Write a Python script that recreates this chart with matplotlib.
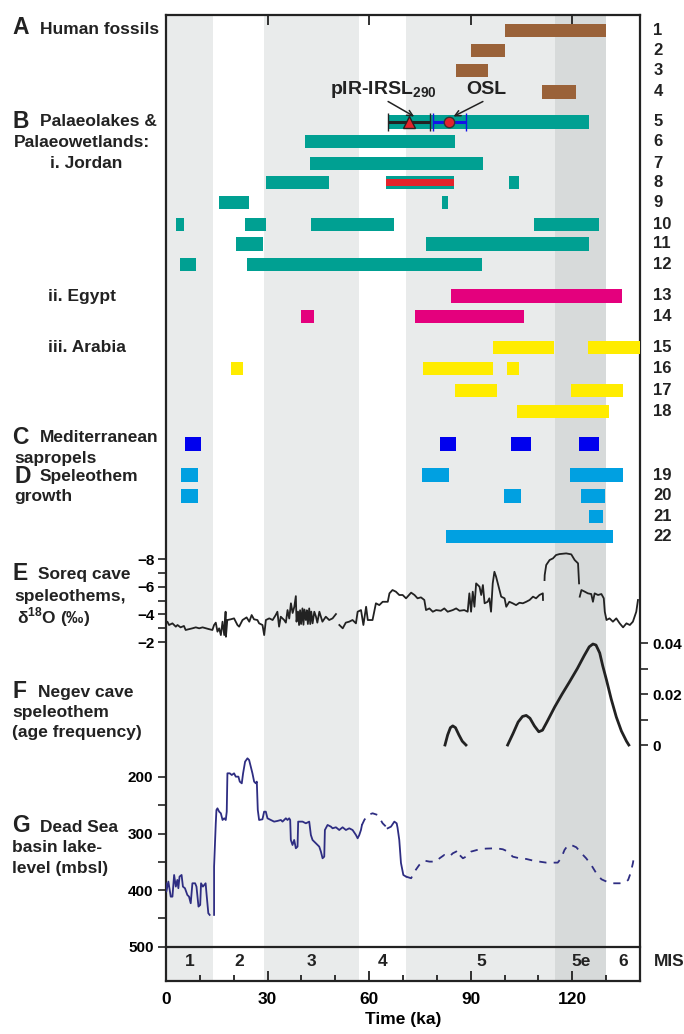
import matplotlib
matplotlib.use('Agg')
import numpy as np
import matplotlib.pyplot as plt
from matplotlib.ticker import MultipleLocator, FixedLocator
import matplotlib.transforms as mtransforms

plt.rcParams['font.family'] = ['Liberation Sans', 'DejaVu Sans']
plt.rcParams['font.weight'] = 'bold'
plt.rcParams['mathtext.fontset'] = 'custom'
plt.rcParams['mathtext.rm'] = 'Liberation Sans:bold'
plt.rcParams['mathtext.bf'] = 'Liberation Sans:bold'
plt.rcParams['axes.unicode_minus'] = True

# ---------------- data ----------------
mis_bounds = [0, 14, 29, 57, 71, 115, 130, 140]
mis_labels = ['1', '2', '3', '4', '5', '5e', '6']

# A  Human fossils (ka intervals), rows 1-4
fossils = [[(100, 130)], [(90, 100)], [(85.8, 95)], [(111, 121)]]
# B i. Jordan palaeolakes, rows 5-12
jordan = [[(66, 124.8)],
          [(41, 85.3)],
          [(42.6, 93.7)],
          [(29.5, 48.2), (65, 85.2), (101.4, 104.4)],
          [(15.7, 24.6), (81.5, 83.3)],
          [(2.9, 5.3), (23.2, 29.6), (42.8, 67.4), (108.6, 128)],
          [(20.7, 28.7), (76.9, 124.9)],
          [(4.2, 8.9), (24, 93.4)]]
jordan_red = (65, 85.2)   # row 8 overlay
# ii. Egypt, rows 13-14
egypt = [[(84.3, 134.8)], [(40, 43.6), (73.5, 105.7)]]
# iii. Arabia, rows 15-18
arabia = [[(96.5, 114.5), (124.6, 140)],
          [(19.1, 22.8), (75.8, 96.6), (100.7, 104.3)],
          [(85.4, 97.9), (119.6, 135)],
          [(103.7, 130.7)]]
# C Mediterranean sapropels
sapropels = [(5.7, 10.3), (80.8, 85.8), (101.8, 107.9), (121.9, 128)]
# D Speleothem growth, rows 19-22
speleo = [[(4.5, 9.4), (75.6, 83.6), (119.3, 135)],
          [(4.5, 9.4), (99.9, 104.8), (122.6, 129.8)],
          [(125, 129.1)],
          [(82.7, 132)]]
# luminescence ages on row 5
pirirsl_age, pirirsl_err = 71.9, (6.2, 6.1)
osl_age, osl_err = 83.5, (4.7, 5.1)

# E Soreq cave d18O
nan = np.nan
soreq_age = [0.0, 0.4, 0.9, 1.9, 2.9, 3.4, 4.3, 5.3, 5.8, 7.8, 8.8, 9.8, 10.8, 12.7, 13.7,
             14.2, 14.7, 15.2, 15.7, 16.2, 16.7, 17.2, 17.6, 17.7, 18.1, 19.1, 20.1, 21.1,
             21.6, 22.6, 23.8, 24.6, 25.3, 26.0, 27.0, 27.5, 28.5, 29.0, 29.5, 30.5, 31.5,
             32.4, 32.9, 33.4, 33.9, 34.9, 35.4, 35.9, 36.4, 36.9, 37.4, 37.9, 38.35, 38.55,
             39.0, 39.3, 39.6, 39.9, 40.3, 40.6, 40.9, 41.3, 41.6, 41.9, 42.3, 42.6, 42.9,
             43.3, 43.8, 44.3, 44.7, 45.3, 46.2, 47.2, 48.2, 49.2, 50.2, nan,
             51.2, 52.2, 53.1, 54.1, 55.1, 56.1, 56.6, 57.6, 58.3, 59.1, 59.6, 61.0, 62.0,
             63.0, 64.0, 65.5, 66.0, 66.9, 67.9, 68.9, 69.9, 70.9, 72.4, 73.4, 74.3, 75.3,
             76.3, 76.8, 77.8, 78.8, 79.8, 81.2, 82.2, 83.2, 84.7, 85.7, 86.7, 88.1, 89.1,
             89.6, 90.1, 90.6, 91.1, 91.6, 92.6, 93.1, 93.6, 94.1, 95.0, 95.5, 96.0, 96.5,
             97.0, 97.5, 98.0, 98.5, 99.0, 100.0, 100.5, 101.4, 102.4, 103.4, 104.4, 105.4,
             106.4, 107.4, 108.4, 109.3, 110.3, 111.3, 111.35, nan,
             111.8, 111.85, 112.3, 113.3, 114.3, 115.2, 116.2, 118.2, 119.7, 120.7, 121.7,
             122.0, nan,
             122.2, 122.7, 123.7, 124.6, 125.6, 126.1, 126.6, 127.6, 128.6, 129.3, 129.6,
             130.1, 131.0, 132.0, 133.0, 134.0, 135.0, 136.0, 137.0, 137.9, 138.9, 139.4]
soreq_d18o = [-3.40, -3.47, -3.23, -3.35, -3.11, -3.23, -3.06, -3.16, -2.87, -2.99, -3.06,
              -2.99, -3.06, -2.93, -2.87,
              -3.23, -3.40, -2.75, -2.99, -2.50, -3.47, -2.50, -4.19, -2.38, -3.59, -3.64,
              -3.71, -3.23, -3.11, -3.59, -3.78, -3.47, -3.95, -3.64, -3.59, -3.35, -3.23,
              -2.50, -3.59, -3.71, -3.59, -3.95, -4.19, -3.11, -3.83, -3.59, -3.40, -4.31,
              -3.70, -4.80, -4.10, -4.55, -5.32, -3.47,
              -4.20, -3.23, -4.30, -3.30, -4.43, -3.25, -4.35, -3.59, -4.30, -3.30, -4.43,
              -3.30, -4.20, -3.35, -4.19, -3.83, -3.40, -4.19, -3.47, -3.83, -3.59, -3.71,
              -4.02, nan,
              -3.23, -2.99, -3.40, -3.47, -3.59, -3.35, -4.19, -4.31, -3.23, -4.55, -3.59,
              -3.59, -4.80, -4.67, -4.91, -4.91, -5.52, -5.76, -5.64, -5.40, -5.40, -5.16,
              -5.57, -5.40, -5.16, -5.23, -5.04, -4.31, -4.43, -4.19, -4.31, -4.26, -4.43,
              -4.19, -4.31, -4.43, -4.26, -4.31, -4.19, -5.52, -4.19, -5.64, -4.55, -6.24,
              -6.00, -5.40, -6.12, -4.80, -4.91, -5.16, -4.19, -6.24, -7.08, -6.72, -6.24,
              -5.76, -5.28, -5.16, -4.55, -4.91, -4.80, -4.67, -4.84, -4.80, -4.91, -5.04,
              -5.28, -5.16, -5.40, -5.52, -5.04, nan,
              -6.48, -6.84, -7.57, -7.93, -8.05, -8.29, -8.36, -8.41, -8.34, -7.93, -7.69,
              -6.24, nan,
              -5.28, -5.76, -5.64, -5.52, -5.47, -4.91, -5.52, -5.40, -5.47, -5.16, -4.19,
              -3.59, -3.71, -3.47, -3.71, -3.35, -3.06, -3.35, -3.23, -3.47, -4.19, -5.04]

# F Negev cave speleothem age frequency
negev1_age = [82.4, 83.2, 84.0, 84.7, 85.5, 86.5, 87.5, 88.6]
negev1_freq = [0.0, 0.004, 0.0068, 0.0075, 0.0068, 0.004, 0.0015, 0.0]
negev2_age = [100.9, 102.5, 104.0, 105.3, 106.4, 107.5, 108.8, 110.1, 111.2, 112.5, 114.8,
              117.0, 119.2, 121.5, 123.5, 125.0, 126.1, 127.0, 128.1, 129.0, 130.1, 131.5,
              133.0, 134.5, 136.0, 136.7]
negev2_freq = [0.0, 0.0045, 0.009, 0.0112, 0.0116, 0.0105, 0.0075, 0.0052, 0.0058, 0.009,
               0.0149, 0.020, 0.0248, 0.030, 0.035, 0.0385, 0.0396, 0.0392, 0.0361, 0.031,
               0.0255, 0.018, 0.011, 0.0055, 0.0015, 0.0]

# G Dead Sea lake level (m below sea level)
ds1_age = [0.0, 0.1, 0.7, 1.4, 1.9, 2.4, 2.9, 3.35, 3.65, 4.0, 4.6, 5.0, 5.6, 6.3, 6.8, 7.3,
           7.8, 8.6, 9.0, 9.6, 10.1, 10.35, 10.9, 11.7, 12.0, 12.5, 12.9]
ds1_lvl = [387.9, 402.6, 384.9, 411.5, 411.5, 373.2, 393.8, 382.0, 396.7, 376.1, 373.2,
           393.8, 396.7, 408.5, 411.5, 423.2, 387.9, 387.9, 393.8, 429.1, 426.2, 387.9,
           393.8, 387.9, 408.5, 440.9, 443.8]
ds2_age = [14.2, 14.2, 14.7, 14.9, 15.2, 15.7, 16.2, 16.7, 17.2, 17.65, 17.94, 18.14, 18.83,
           19.42, 20.11, 20.6, 21.39, 21.79, 22.38, 22.77, 23.36, 24.06, 24.55, 25.04, 25.53,
           26.03, 26.52, 26.82, 27.11, 27.5, 28.49, 28.98, 29.48, 29.97, 30.96, 31.94, 32.93,
           33.92, 34.41, 34.9, 35.4, 35.89, 36.38, 36.68, 36.87, 37.37, 37.86, 38.35, 38.85,
           39.04, 39.83, 40.33, 41.31, 42.3, 42.79, 43.28, 43.78, 44.27, 45.26, 45.75, 46.24,
           46.74, 46.93, 47.72, 48.71, 49.2, 50.19, 51.17, 52.16, 53.14, 54.13, 55.11, 56.1,
           56.6, 57.09, 57.58, 57.88]
ds2_lvl = [443.8, 358.4, 281.9, 258.3, 255.4, 261.3, 264.2, 276, 273, 276, 261.3, 193.5,
           193.5, 196.5, 193.5, 199.4, 199.4, 208.2, 211.2, 193.5, 172.9, 167, 170, 181.7,
           193.5, 208.2, 211.2, 208.2, 258.3, 276, 274.8, 261.3, 261.3, 273, 276, 278.9,
           277.7, 276, 278.9, 276, 273, 276, 273, 276, 311.3, 320.2, 311.3, 326, 323.1,
           278.9, 278.9, 278.9, 281.9, 278.9, 302.5, 311.3, 314.3, 317.2, 323.1, 331.9,
           343.7, 340.8, 293.7, 284.8, 287.8, 290.7, 288.9, 293.7, 288.9, 293.7, 290.7,
           293.7, 302.5, 308.4, 302.5, 293.7, 284.8]
ds3_age = [57.88, 58.57, 59.55, 61.03, 62.51, 63.99, 65.47]           # dashed
ds3_lvl = [284.8, 276, 267.1, 264.2, 267.1, 281.9, 290.7]
ds4_age = [65.47, 66.45, 67.44, 68.13, 68.4, 68.9, 69.4, 70.1, 70.9]  # solid
ds4_lvl = [290.7, 287.8, 278.9, 281.9, 290, 311.3, 352, 373.2, 376.1]
ds5_age = [70.9, 72.4, 73.4, 74.8, 76.3, 77.8, 79.8, 80.8, 82.2, 83.7, 84.7, 85.7, 86.2, 86.7,
           87.7, 88.6, 90.1, 92.6, 94.5, 97.5, 99.5, 101.0, 102.4, 104.4, 106.4, 108.4, 110.3,
           112.3, 114.3, 115.7, 116.7, 117.7, 118.7, 119.7, 121.2, 122.7, 124.1, 125.6, 127.1,
           128.6, 130.1, 132.0, 134.0, 135.5, 136.5, 137.2, 137.9, 138.4]   # dashed
ds5_lvl = [376.1, 379, 367.3, 355.5, 347.8, 349.6, 349.6, 343.7, 337.8, 340.8, 334.9, 331.9,
           329, 337.8, 343.7, 340.8, 331.9, 327.8, 326.6, 326.0, 327.8, 331.9, 340.8, 343.7,
           344.9, 347.8, 349.6, 351.4, 351.4, 351.4, 343.7, 329, 320.7, 320.2, 324.3, 334.9,
           343.7, 355.5, 370.2, 380.8, 384.9, 387.9, 387.9, 386.7, 382, 370.2, 352.5, 334.9]

# ---------------- layout (pixels) ----------------
W, H = 684, 1034
L, R = 166, 640
XMAX = 140
row_y = [30.5, 50.5, 70.5, 92, 122, 141.5, 163.5, 182.5, 202.5, 224.5, 244, 264.5,
         296, 316.7, 347.5, 368.3, 390.5, 411.3, 444, 475, 496, 516.3, 536.7]
BAR_H = 13.3

c_brown = '#9a6239'
c_teal = '#00a092'
c_red = '#e3232b'
c_mag = '#e4007d'
c_yel = '#ffec00'
c_dblue = '#0000ee'
c_lblue = '#00a0e1'
c_navy = '#2e2d82'
c_black = '#222222'
c_g1 = '#e9ebeb'
c_g2 = '#d7dada'
shade = [c_g1, 'white', c_g1, 'white', c_g1, c_g2, 'white']

fig = plt.figure(figsize=(W / 100, H / 100), dpi=100)


def axes_px(top, bottom):
    a = fig.add_axes([L / W, 1 - bottom / H, (R - L) / W, (bottom - top) / H])
    a.set_xlim(0, XMAX)
    a.patch.set_visible(False)
    return a


# background / frame
ax0 = axes_px(15, 980.7)
ax0.patch.set_visible(True)
for i in range(len(mis_labels)):
    ax0.axvspan(mis_bounds[i], mis_bounds[i + 1], color=shade[i], lw=0)
ax0.set_ylim(0, 1)
ax0.set_yticks([])
for s in ax0.spines.values():
    s.set_linewidth(1.6)
    s.set_color(c_black)
ax0.xaxis.set_major_locator(MultipleLocator(30))
ax0.xaxis.set_minor_locator(MultipleLocator(10))
ax0.tick_params(axis='x', which='both', direction='in', top=True, bottom=True,
                color=c_black, width=1.3, labelsize=12.5, pad=8)
ax0.tick_params(axis='x', which='major', length=7)
ax0.tick_params(axis='x', which='minor', length=4, top=False)
for t in ax0.get_xticklabels():
    t.set_fontweight('bold')
ax0.set_xlabel('Time (ka)', fontsize=12.5, fontweight='bold', labelpad=4)

# MIS strip
axm = axes_px(946.7, 980.7)
axm.set_ylim(0, 1)
for k, s in axm.spines.items():
    s.set_visible(k == 'top')
axm.spines['top'].set_linewidth(1.6)
axm.spines['top'].set_color(c_black)
axm.set_xticks([]); axm.set_yticks([])
for i, lab in enumerate(mis_labels):
    axm.text((mis_bounds[i] + mis_bounds[i + 1]) / 2, 0.55, lab, ha='center', va='center',
             fontsize=12.5, fontweight='bold', color=c_black)
axm.text(1.03, 0.55, 'MIS', transform=axm.transAxes, ha='left', va='center',
         fontsize=12.5, fontweight='bold', color=c_black)

# bar panel
axb = axes_px(15, 548)
axb.set_ylim(548, 15)
axb.axis('off')


def draw_rows(rows, ys, color):
    for ivs, y in zip(rows, ys):
        for a, b in ivs:
            axb.barh(y, b - a, left=a, height=BAR_H, color=color, lw=0)


draw_rows(fossils, row_y[0:4], c_brown)
draw_rows(jordan, row_y[4:12], c_teal)
axb.barh(row_y[7], jordan_red[1] - jordan_red[0], left=jordan_red[0], height=BAR_H * 0.5,
         color=c_red, lw=0)
draw_rows(egypt, row_y[12:14], c_mag)
draw_rows(arabia, row_y[14:18], c_yel)
draw_rows([sapropels], [row_y[18]], c_dblue)
draw_rows(speleo, row_y[19:23], c_lblue)

axb.errorbar(pirirsl_age, row_y[4], xerr=[[pirirsl_err[0]], [pirirsl_err[1]]], fmt='^',
             ms=8, mfc=c_red, mec=c_black, mew=1, ecolor=c_black, elinewidth=2.2,
             capsize=6.5, capthick=2.2, zorder=5)
axb.errorbar(osl_age, row_y[4], xerr=[[osl_err[0]], [osl_err[1]]], fmt='o',
             ms=7.5, mfc=c_red, mec='#333333', mew=1, ecolor='#1414e6', elinewidth=2.2,
             capsize=6.5, capthick=2.2, zorder=5)
axb.annotate('', xy=(73.3, 116.5), xytext=(65.6, 101.5),
             arrowprops=dict(arrowstyle='->', lw=1.1, color=c_black, shrinkA=0, shrinkB=0))
axb.annotate('', xy=(84.9, 116.5), xytext=(93.6, 101.5),
             arrowprops=dict(arrowstyle='->', lw=1.1, color=c_black, shrinkA=0, shrinkB=0))
axb.text(64.2, 90, r'pIR-IRSL$_{290}$', ha='center', va='center', fontsize=14,
         fontweight='bold', color=c_black)
axb.text(94.5, 90, 'OSL', ha='center', va='center', fontsize=14, fontweight='bold',
         color=c_black)

# row numbers
trans_b = mtransforms.blended_transform_factory(axb.transAxes, axb.transData)
row_nums = [str(i) for i in range(1, 19)] + [''] + [str(i) for i in range(19, 23)]
for lab, y in zip(row_nums, row_y):
    if lab:
        axb.text(1.028, y, lab, transform=trans_b, ha='left', va='center', fontsize=12,
                 fontweight='bold', color=c_black, clip_on=False)

# Soreq panel
axs = axes_px(548, 655)
axs.set_ylim(-1.06, -8.8)
axs.plot(soreq_age, soreq_d18o, color=c_black, lw=1.3)
for s in axs.spines.values():
    s.set_visible(False)
axs.set_xticks([])
axs.yaxis.set_major_locator(FixedLocator([-8, -6, -4, -2]))
axs.yaxis.set_minor_locator(FixedLocator([-7, -5, -3]))
axs.tick_params(axis='y', which='both', direction='out', length=6, width=1.2,
                color=c_black, labelsize=11, pad=2)
axs.set_yticklabels(['\u22128', '\u22126', '\u22124', '\u22122'])

# Negev panel
axn = axes_px(630, 760)
axn.set_ylim(-0.00588, 0.0451)
axn.plot(negev1_age, negev1_freq, color=c_black, lw=2)
axn.plot(negev2_age, negev2_freq, color=c_black, lw=2)
for s in axn.spines.values():
    s.set_visible(False)
axn.set_xticks([])
axn.yaxis.tick_right()
axn.yaxis.set_major_locator(FixedLocator([0, 0.02, 0.04]))
axn.yaxis.set_minor_locator(FixedLocator([0.01, 0.03]))
axn.set_yticklabels(['0', '0.02', '0.04'])
axn.tick_params(axis='y', which='both', direction='out', length=6, width=1.2,
                color=c_black, labelsize=11, pad=3)

# Dead Sea panel
axd = axes_px(700, 946.7)
axd.set_ylim(500, 63.9)
axd.plot(ds1_age, ds1_lvl, color=c_navy, lw=1.3)
axd.plot(ds2_age, ds2_lvl, color=c_navy, lw=1.3)
axd.plot(ds3_age, ds3_lvl, color=c_navy, lw=1.3, ls=(0, (4, 4)))
axd.plot(ds4_age, ds4_lvl, color=c_navy, lw=1.3)
axd.plot(ds5_age, ds5_lvl, color=c_navy, lw=1.3, ls=(0, (4, 4)))
for s in axd.spines.values():
    s.set_visible(False)
axd.set_xticks([])
axd.yaxis.set_major_locator(FixedLocator([200, 300, 400, 500]))
axd.yaxis.set_minor_locator(FixedLocator([250, 350, 450]))
axd.tick_params(axis='y', which='both', direction='out', length=6, width=1.2,
                color=c_black, labelsize=11, pad=3)

for a in (axs, axn, axd):
    for t in a.get_yticklabels():
        t.set_fontweight('bold')


# left labels
def ftext(x, y, s, size=12.5, **kw):
    fig.text(x / W, 1 - y / H, s, fontsize=size, fontweight='bold', va='center',
             ha='left', color=c_black, **kw)


BIG = 16.5
ftext(12, 28, 'A', BIG); ftext(40, 29, 'Human fossils')
ftext(12, 121, 'B', BIG); ftext(40, 122, 'Palaeolakes &')
ftext(14, 142, 'Palaeowetlands:')
ftext(50, 163, 'i. Jordan')
ftext(48, 296, 'ii. Egypt')
ftext(48, 348, 'iii. Arabia')
ftext(12, 437, 'C', BIG); ftext(40, 438, 'Mediterranean')
ftext(14, 458, 'sapropels')
ftext(14, 476, 'D', BIG); ftext(40, 477, 'Speleothem')
ftext(14, 497, 'growth')
ftext(12, 574, 'E', BIG); ftext(38, 575, 'Soreq cave')
ftext(14, 596, 'speleothems,')
ftext(17, 617, r'δ$^{18}$O (‰)')
ftext(12, 691, 'F', BIG); ftext(38, 692, 'Negev cave')
ftext(12, 712, 'speleothem')
ftext(12, 733, '(age frequency)')
ftext(12, 826, 'G', BIG); ftext(40, 827, 'Dead Sea')
ftext(12, 848, 'basin lake-')
ftext(12, 869, 'level (mbsl)')

fig.savefig('out.png', dpi=100)
